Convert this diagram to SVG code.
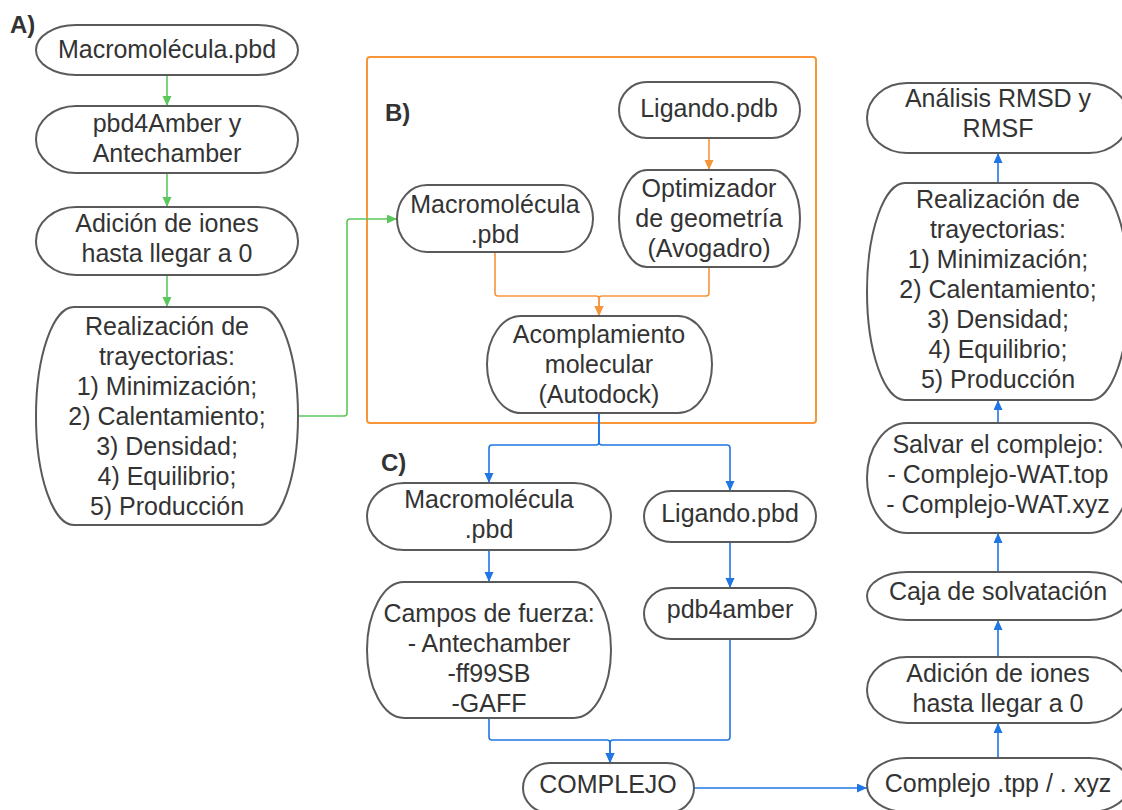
<svg xmlns="http://www.w3.org/2000/svg" width="1122" height="810" viewBox="0 0 1122 810">
<style>
.n{fill:#fff;stroke:#5a5a5a;stroke-width:2}
.t{font-family:"Liberation Sans",Arial,sans-serif;font-size:25px;fill:#333;text-anchor:middle}
.lbl{font-family:"Liberation Sans",Arial,sans-serif;font-size:24px;font-weight:bold;fill:#333}
.g{fill:none;stroke:#5cc75c;stroke-width:1.6}
.o{fill:none;stroke:#f7953b;stroke-width:1.6}
.b{fill:none;stroke:#1f76e4;stroke-width:1.6}
</style>
<defs>
<marker id="ag" markerUnits="userSpaceOnUse" markerWidth="12" markerHeight="12" refX="10" refY="4.5" orient="auto"><path d="M0,0 L10,4.5 L0,9 Z" fill="#5cc75c"/></marker>
<marker id="ao" markerUnits="userSpaceOnUse" markerWidth="12" markerHeight="12" refX="10" refY="4.5" orient="auto"><path d="M0,0 L10,4.5 L0,9 Z" fill="#f7953b"/></marker>
<marker id="ab" markerUnits="userSpaceOnUse" markerWidth="12" markerHeight="12" refX="10" refY="4.5" orient="auto"><path d="M0,0 L10,4.5 L0,9 Z" fill="#1f76e4"/></marker>
</defs>
<rect width="1122" height="810" fill="#fff"/>

<rect id="boxB" x="367" y="57" width="449" height="366" rx="3" fill="none" stroke="#f7953b" stroke-width="2"/>
<text class="lbl" x="10" y="33">A)</text>
<text class="lbl" x="385" y="121">B)</text>
<text class="lbl" x="381" y="471">C)</text>

<g id="connectors">
<path class="g" d="M167,75 V106" marker-end="url(#ag)"/>
<path class="g" d="M167,173 V207" marker-end="url(#ag)"/>
<path class="g" d="M167,275 V307" marker-end="url(#ag)"/>
<path class="g" d="M298,416 H344 Q347,416 347,413 V222 Q347,219 350,219 H397" marker-end="url(#ag)"/>
<path class="o" d="M709,138 V170" marker-end="url(#ao)"/>
<path class="o" d="M495,252 V293 Q495,296 498,296 H596 Q599,296 599,299 V316" marker-end="url(#ao)"/>
<path class="o" d="M709,267 V293 Q709,296 706,296 H602 Q599,296 599,299 V316" marker-end="url(#ao)"/>
<path class="b" d="M599,413 V442 Q599,445 596,445 H492 Q489,445 489,448 V483" marker-end="url(#ab)"/>
<path class="b" d="M599,413 V442 Q599,445 602,445 H727 Q730,445 730,448 V491" marker-end="url(#ab)"/>
<path class="b" d="M489,550 V582" marker-end="url(#ab)"/>
<path class="b" d="M730,542 V588" marker-end="url(#ab)"/>
<path class="b" d="M489,718 V737 Q489,740 492,740 H607 Q610,740 610,743 V763" marker-end="url(#ab)"/>
<path class="b" d="M730,639 V737 Q730,740 727,740 H613 Q610,740 610,743 V763" marker-end="url(#ab)"/>
<path class="b" d="M694,788 H867" marker-end="url(#ab)"/>
<path class="b" d="M998,758 V723" marker-end="url(#ab)"/>
<path class="b" d="M998,657 V620" marker-end="url(#ab)"/>
<path class="b" d="M998,572 V533" marker-end="url(#ab)"/>
<path class="b" d="M998,423 V400" marker-end="url(#ab)"/>
<path class="b" d="M998,183 V153" marker-end="url(#ab)"/>
</g>

<g id="A1"><rect class="n" x="36" y="25" width="262" height="50" rx="40" ry="25"/><text class="t" x="167" y="58">Macromolécula.pbd</text></g>
<g id="A2"><rect class="n" x="36" y="106" width="262" height="67" rx="40" ry="33.5"/><text class="t" x="167" y="132">pbd4Amber y</text><text class="t" x="167" y="162">Antechamber</text></g>
<g id="A3"><rect class="n" x="36" y="207" width="262" height="68" rx="40" ry="34"/><text class="t" x="167" y="232">Adición de iones</text><text class="t" x="167" y="262">hasta llegar a 0</text></g>
<g id="A4"><rect class="n" x="36" y="307" width="262" height="218" rx="38" ry="109"/>
<text class="t" x="167" y="335">Realización de</text><text class="t" x="167" y="365">trayectorias:</text><text class="t" x="167" y="395">1) Minimización;</text><text class="t" x="167" y="425">2) Calentamiento;</text><text class="t" x="167" y="455">3) Densidad;</text><text class="t" x="167" y="485">4) Equilibrio;</text><text class="t" x="167" y="515">5) Producción</text></g>

<g id="B1"><rect class="n" x="397" y="185" width="196" height="67" rx="30" ry="33.5"/><text class="t" x="495" y="213">Macromolécula</text><text class="t" x="495" y="243">.pbd</text></g>
<g id="B2"><rect class="n" x="619" y="82" width="181" height="56" rx="28" ry="28"/><text class="t" x="709" y="117">Ligando.pdb</text></g>
<g id="B3"><rect class="n" x="619" y="170" width="181" height="97" rx="28" ry="48.5"/><text class="t" x="709" y="197">Optimizador</text><text class="t" x="709" y="227">de geometría</text><text class="t" x="709" y="257">(Avogadro)</text></g>
<g id="B4"><rect class="n" x="487" y="316" width="225" height="97" rx="34" ry="48.5"/><text class="t" x="599" y="343">Acomplamiento</text><text class="t" x="599" y="373">molecular</text><text class="t" x="599" y="403">(Autodock)</text></g>

<g id="C1"><rect class="n" x="367" y="483" width="244" height="67" rx="37" ry="33.5"/><text class="t" x="489" y="508">Macromolécula</text><text class="t" x="489" y="538">.pbd</text></g>
<g id="C2"><rect class="n" x="644" y="491" width="172" height="51" rx="27" ry="25.5"/><text class="t" x="730" y="522">Ligando.pbd</text></g>
<g id="C3"><rect class="n" x="367" y="582" width="244" height="136" rx="37" ry="68"/><text class="t" x="489" y="622">Campos de fuerza:</text><text class="t" x="489" y="652">- Antechamber</text><text class="t" x="489" y="682">-ff99SB</text><text class="t" x="489" y="712">-GAFF</text></g>
<g id="C4"><rect class="n" x="644" y="588" width="172" height="51" rx="27" ry="25.5"/><text class="t" x="730" y="618">pdb4amber</text></g>
<g id="C5"><rect class="n" x="523" y="763" width="171" height="50" rx="27" ry="25"/><text class="t" x="608" y="793">COMPLEJO</text></g>

<g id="R1"><rect class="n" x="867" y="758" width="262" height="54" rx="40" ry="27"/><text class="t" x="998" y="792">Complejo .tpp / . xyz</text></g>
<g id="R2"><rect class="n" x="867" y="657" width="262" height="66" rx="40" ry="33"/><text class="t" x="998" y="682">Adición de iones</text><text class="t" x="998" y="712">hasta llegar a 0</text></g>
<g id="R3"><rect class="n" x="867" y="572" width="262" height="48" rx="40" ry="24"/><text class="t" x="998" y="600">Caja de solvatación</text></g>
<g id="R4"><rect class="n" x="867" y="423" width="262" height="110" rx="40" ry="55"/><text class="t" x="998" y="453">Salvar el complejo:</text><text class="t" x="998" y="483">- Complejo-WAT.top</text><text class="t" x="998" y="513">- Complejo-WAT.xyz</text></g>
<g id="R5"><rect class="n" x="867" y="183" width="262" height="217" rx="38" ry="108.5"/>
<text class="t" x="998" y="208">Realización de</text><text class="t" x="998" y="238">trayectorias:</text><text class="t" x="998" y="268">1) Minimización;</text><text class="t" x="998" y="298">2) Calentamiento;</text><text class="t" x="998" y="328">3) Densidad;</text><text class="t" x="998" y="358">4) Equilibrio;</text><text class="t" x="998" y="388">5) Producción</text></g>
<g id="R6"><rect class="n" x="867" y="83" width="262" height="70" rx="40" ry="35"/><text class="t" x="998" y="107">Análisis RMSD y</text><text class="t" x="998" y="137">RMSF</text></g>
</svg>
